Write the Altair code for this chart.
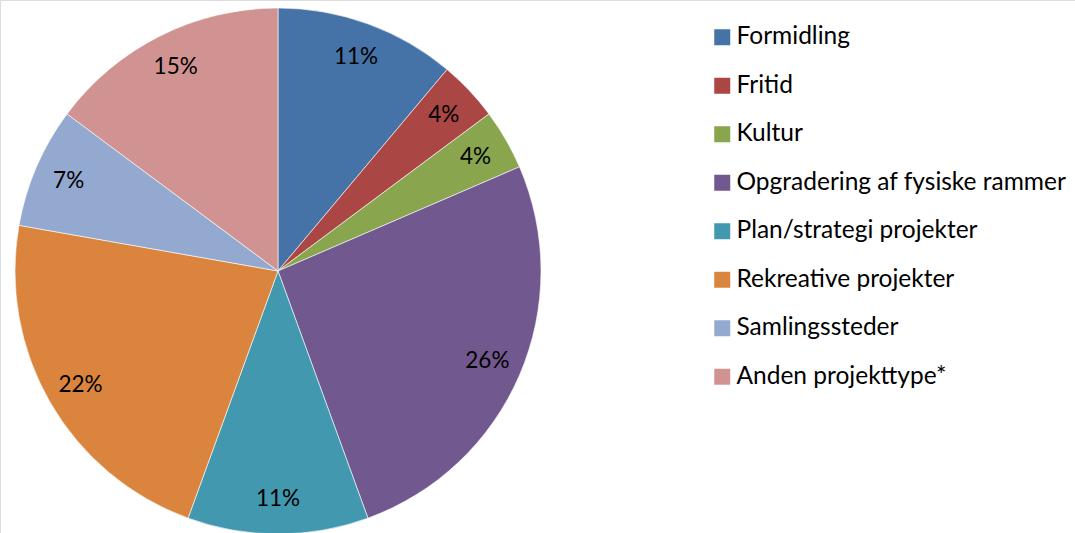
import altair as alt
import pandas as pd

categories = ["Formidling", "Fritid", "Kultur", "Opgradering af fysiske rammer",
              "Plan/strategi projekter", "Rekreative projekter", "Samlingssteder",
              "Anden projekttype*"]
counts = [3, 1, 1, 7, 3, 6, 2, 4]
colors = ["#4572A7", "#AA4643", "#89A54E", "#71588F", "#4198AF", "#DB843D", "#93A9CF", "#D19392"]

total = sum(counts)
df = pd.DataFrame({
    "cat": categories,
    "n": counts,
    "idx": list(range(len(categories))),
    "label": [f"{round(100 * c / total)}%" for c in counts],
})

FONT = "Lato"
CX, CY, R = 278, 271, 263

base = alt.Chart(df).encode(
    theta=alt.Theta("n:Q", stack=True),
    order=alt.Order("idx:Q"),
    x=alt.value(CX),
    y=alt.value(CY),
)

pie = base.mark_arc(outerRadius=R, stroke="white", strokeWidth=0.6).encode(
    color=alt.Color(
        "cat:N",
        scale=alt.Scale(domain=categories, range=colors),
        legend=alt.Legend(
            title=None,
            orient="none",
            legendX=710,
            legendY=25,
            symbolType="square",
            symbolSize=256,
            symbolStrokeWidth=0,
            labelFont=FONT,
            labelFontSize=24.5,
            labelColor="black",
            labelLimit=400,
            labelOffset=2,
            rowPadding=23.5,
        ),
    )
)

text = base.mark_text(radius=228, font=FONT, fontSize=22.5, color="black").encode(
    text="label:N"
)

chart = (pie + text).properties(
    width=1075, height=533, padding=0,
    autosize=alt.AutoSizeParams(type="none"),
).configure_view(stroke=None).configure(background="white")

chart.save("out.html", embed_options={"renderer": "svg", "actions": False})
